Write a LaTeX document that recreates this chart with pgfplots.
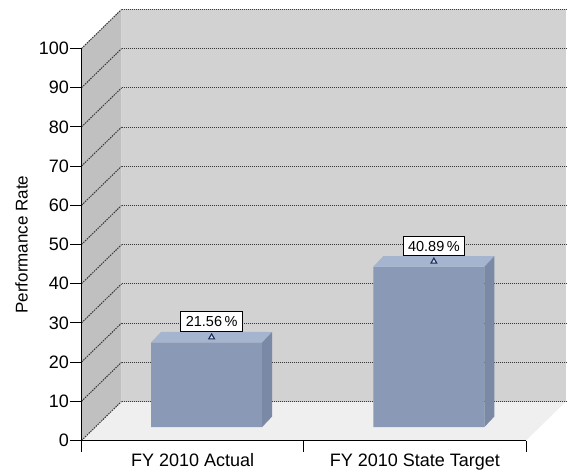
\documentclass[border=0pt]{standalone}
\usepackage{fontspec}
\setmainfont{Liberation Sans}
\usepackage{pgfplots}
\pgfplotsset{compat=1.18}

\definecolor{backwall}{HTML}{D2D2D2}
\definecolor{sidewall}{HTML}{C0C0C0}
\definecolor{floorc}{HTML}{EFEFEF}
\definecolor{barfront}{HTML}{8A99B6}
\definecolor{bartop}{HTML}{A5B4CF}
\definecolor{barside}{HTML}{7A89A6}
\definecolor{griddot}{HTML}{383838}
\definecolor{marknavy}{HTML}{1F2D5A}

\pgfplotsset{
  /pgf/number format/assume math mode=true,
  plane/.style={scale only axis, width=444.5pt, height=392pt,
    xmin=0, xmax=2, ymin=0, ymax=100, clip=false, anchor=south west},
}

\begin{document}
\begin{tikzpicture}
\useasboundingbox (0,0) rectangle (571pt,475pt);

% front plane: axes, ticks, side wall and floor
\begin{axis}[plane, at={(81.5pt,34.5pt)},
  axis on top,
  axis x line*=bottom, axis y line*=left,
  axis line style={-, black, line width=0.9pt},
  tick align=outside, major tick length=11pt,
  tick style={black, line width=0.9pt},
  ytick={0,10,20,30,40,50,60,70,80,90,100},
  xtick={0,1,2}, x tick label as interval,
  xticklabels={FY 2010 Actual, FY 2010 State Target},
  yticklabel style={font=\fontsize{18}{21}\selectfont, inner xsep=1.5pt},
  xticklabel style={font=\fontsize{18}{21}\selectfont, inner ysep=2pt},
  ylabel={Performance Rate},
  every axis y label/.style={at={([xshift=-60pt]axis description cs:0,0.5)},
    rotate=90, anchor=center, font=\fontsize{17}{20}\selectfont},
]
\fill[sidewall] (axis cs:0,0) -- (axis cs:0,100) -- ++(40pt,39pt) -- ++(0pt,-392pt) -- cycle;
\fill[floorc] (axis cs:0,0) -- (axis cs:2,0) -- ++(40pt,39pt) -- ++(-444.5pt,0pt) -- cycle;
\pgfplotsinvokeforeach{0,10,20,30,40,50,60,70,80,90,100}{
  \draw[griddot, line width=1pt, dash pattern=on 1.5pt off 1pt] (axis cs:0,#1) -- ++(40pt,39pt);
}
\end{axis}

% back wall with dotted grid
\begin{axis}[plane, at={(121.5pt,73.5pt)},
  axis background/.style={fill=backwall},
  axis line style={draw=none},
  ymajorgrids, ytick={0,10,20,30,40,50,60,70,80,90,100},
  xtick=\empty, yticklabels=\empty, ytick style={draw=none},
  grid style={griddot, line width=1.1pt, dash pattern=on 1pt off 1pt},
]
\end{axis}

% bars, set a third of the way into the depth
\begin{axis}[plane, at={(95.5pt,48pt)}, hide axis]
\addplot[ybar, bar width=111pt, fill=barfront, draw=none]
  coordinates {(0.5,21.56) (1.5,40.89)};
\addplot[fill=bartop, draw=none]
  coordinates {(0.25,21.56) (0.75,21.56) (0.795,24.26) (0.295,24.26)} -- cycle;
\addplot[fill=barside, draw=none]
  coordinates {(0.75,0) (0.75,21.56) (0.795,24.26) (0.795,2.7)} -- cycle;
\addplot[fill=bartop, draw=none]
  coordinates {(1.25,40.89) (1.75,40.89) (1.795,43.59) (1.295,43.59)} -- cycle;
\addplot[fill=barside, draw=none]
  coordinates {(1.75,0) (1.75,40.89) (1.795,43.59) (1.795,2.7)} -- cycle;
\addplot[only marks, mark=triangle*, mark size=3.3pt,
  mark options={draw=marknavy, fill=bartop!50!white, line width=1.1pt},
  point meta=explicit symbolic,
  nodes near coords={\pgfplotspointmeta\,\%},
  every node near coord/.style={anchor=south, yshift=5.5pt, draw=black, fill=white,
    text=black, line width=0.8pt, font=\fontsize{14.5}{16}\selectfont,
    inner xsep=5pt, inner ysep=4.5pt, text height=10.5pt, text depth=0pt},
] coordinates {(0.5225,22.91) [21.56] (1.5225,42.24) [40.89]};
\end{axis}
\end{tikzpicture}
\end{document}
